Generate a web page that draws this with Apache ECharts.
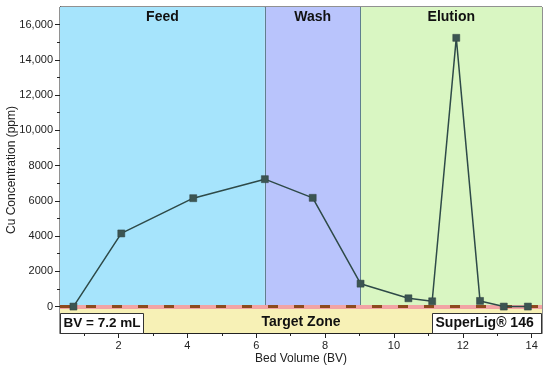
<!DOCTYPE html>
<html><head><meta charset="utf-8">
<script src="https://cdn.jsdelivr.net/npm/echarts@6/dist/echarts.min.js"></script>
<style>html,body{margin:0;padding:0;background:#fff}#c{width:550px;height:368px}</style>
</head><body><div id="c"></div>
<script>
// Data
const bedVolume = [0.69, 2.08, 4.17, 6.25, 7.64, 9.03, 10.42, 11.11, 11.81, 12.50, 13.19, 13.89];
const cuPpm     = [0, 4150, 6150, 7230, 6170, 1300, 470, 300, 15250, 320, 0, 0];
const phaseNames = ['Feed', 'Wash', 'Elution'];
const phaseBounds = [0.3, 6.25, 9.03, 14.3];
const xTickLabels = [2, 4, 6, 8, 10, 12, 14];
const xMinorTicks = [1, 3, 5, 7, 9, 11, 13];
const yTickLabels = [0, 2000, 4000, 6000, 8000, 10000, 12000, 14000, 16000];
const yMinorTicks = [1000, 3000, 5000, 7000, 9000, 11000, 13000, 15000];
const targetZone = [-1500, 0];

const phaseColors = ['#a6e4fc', '#b9c4fc', '#d9f6c2'];
const FONT = '"Liberation Sans", Arial, sans-serif';
const X_MIN = 0.3, X_MAX = 14.3, Y_MIN = -1500, Y_MAX = 17000;

const chart = echarts.init(document.getElementById('c'), null, {renderer: 'canvas'});

const fmtY = v => v >= 10000 ? v.toLocaleString('en-US') : String(v);

const option = {
  animation: false,
  grid: {left: 60, top: 7, right: 8, bottom: 35, show: true, borderColor: '#222', borderWidth: 1, containLabel: false, outerBoundsMode: 'none'},
  xAxis: [{
    type: 'value', min: X_MIN, max: X_MAX,
    name: 'Bed Volume (BV)', nameLocation: 'middle', nameGap: 20, nameMoveOverlap: false,
    nameTextStyle: {fontFamily: FONT, fontSize: 12, color: '#222'},
    axisLine: {show: true, onZero: false, lineStyle: {color: '#222'}},
    axisTick: {show: true, customValues: xTickLabels, length: 5, lineStyle: {color: '#222'}},
    axisLabel: {customValues: xTickLabels, fontFamily: FONT, fontSize: 11, color: '#222', margin: 7},
    splitLine: {show: false}
  }, {
    type: 'value', min: X_MIN, max: X_MAX, position: 'bottom',
    axisLine: {show: false, onZero: false},
    axisTick: {show: true, customValues: xMinorTicks, length: 3, lineStyle: {color: '#222'}},
    axisLabel: {show: false}, splitLine: {show: false}
  }],
  yAxis: [{
    type: 'value', min: Y_MIN, max: Y_MAX,
    name: 'Cu Concentration (ppm)', nameLocation: 'middle', nameGap: 42, nameMoveOverlap: false,
    nameTextStyle: {fontFamily: FONT, fontSize: 12, color: '#222'},
    axisLine: {show: true, onZero: false, lineStyle: {color: '#222'}},
    axisTick: {show: true, customValues: yTickLabels, length: 5, lineStyle: {color: '#222'}},
    axisLabel: {customValues: yTickLabels, formatter: fmtY, fontFamily: FONT, fontSize: 11, color: '#222', margin: 7},
    splitLine: {show: false}
  }, {
    type: 'value', min: Y_MIN, max: Y_MAX, position: 'left',
    axisLine: {show: false, onZero: false},
    axisTick: {show: true, customValues: yMinorTicks, length: 3, lineStyle: {color: '#222'}},
    axisLabel: {show: false}, splitLine: {show: false}
  }],
  series: [
    {
      type: 'line', data: [], silent: true, z: 1,
      markArea: {
        silent: true,
        data: phaseNames.map((n, i) => [
          {name: n, xAxis: phaseBounds[i], yAxis: 0, itemStyle: {color: phaseColors[i], opacity: 1},
           label: {show: true, position: 'insideTop', distance: 3, formatter: n, fontFamily: FONT, fontSize: 14, fontWeight: 'bold', color: '#111'}},
          {xAxis: phaseBounds[i + 1], yAxis: Y_MAX}
        ])
      }
    },
    {
      type: 'line', data: [], silent: true, z: 2,
      markArea: {
        silent: true,
        data: [[
          {name: 'Target Zone', xAxis: X_MIN, yAxis: targetZone[0], itemStyle: {color: '#f7f1b6', opacity: 1},
           label: {show: true, position: 'inside', formatter: 'Target Zone', fontFamily: FONT, fontSize: 14, fontWeight: 'bold', color: '#111', offset: [0, 2]}},
          {xAxis: X_MAX, yAxis: targetZone[1]}
        ]]
      },
      markLine: {
        silent: true, symbol: 'none', animation: false,
        label: {show: false},
        data: [
          [{coord: [phaseBounds[1], 0], lineStyle: {color: '#5f7f8e', width: 1, type: 'solid'}}, {coord: [phaseBounds[1], Y_MAX]}],
          [{coord: [phaseBounds[2], 0], lineStyle: {color: '#5f7f8e', width: 1, type: 'solid'}}, {coord: [phaseBounds[2], Y_MAX]}],
          [{coord: [X_MIN, 0], lineStyle: {color: '#f2a4a4', width: 4, type: 'solid'}}, {coord: [X_MAX, 0]}]
        ]
      }
    },
    {
      type: 'line', data: [], silent: true, z: 3,
      markLine: {
        silent: true, symbol: 'none', animation: false, label: {show: false},
        data: [[{coord: [X_MIN, 0], lineStyle: {color: '#8e4a1e', width: 3, type: [10, 16]}}, {coord: [X_MAX, 0]}]]
      }
    },
    {
      type: 'line', z: 5,
      data: bedVolume.map((x, i) => [x, cuPpm[i]]),
      symbol: 'rect', symbolSize: 7, showAllSymbol: true,
      lineStyle: {color: '#2e4a48', width: 1.5},
      itemStyle: {color: '#3c5552', borderColor: '#2e4040', borderWidth: 0.5}
    }
  ],
  graphic: [
    {type: 'group', left: 60, top: 313, zlevel: 1, z: 100, children: [
      {type: 'rect', zlevel: 1, z: 100, shape: {x: 0, y: 0, width: 83, height: 20}, style: {fill: '#fff', stroke: '#333', lineWidth: 1}},
      {type: 'text', zlevel: 1, z: 101, x: 3, y: 10, style: {text: 'BV = 7.2 mL', font: 'bold 13.5px ' + FONT, fill: '#111', verticalAlign: 'middle'}}
    ]},
    {type: 'group', left: 432, top: 313, zlevel: 1, z: 100, children: [
      {type: 'rect', zlevel: 1, z: 100, shape: {x: 0, y: 0, width: 109, height: 20}, style: {fill: '#fff', stroke: '#333', lineWidth: 1}},
      {type: 'text', zlevel: 1, z: 101, x: 3, y: 10, style: {text: 'SuperLig® 146', font: 'bold 14px ' + FONT, fill: '#111', verticalAlign: 'middle'}}
    ]}
  ]
};
chart.setOption(option);
</script>
</body></html>
